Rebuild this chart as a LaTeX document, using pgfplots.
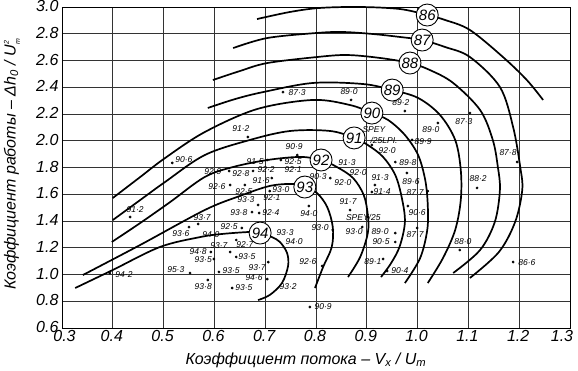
\documentclass[border=0pt]{standalone}
\usepackage{fontspec}
\setmainfont{Liberation Sans}
\usepackage{pgfplots}
\pgfplotsset{compat=1.18}
\usepackage{pgfplotstable}

\pgfplotstableread{
x y
0.735 2.364
0.869 2.305
0.666 2.028
0.763 1.893
0.704 1.856
0.731 1.856
0.629 1.774
0.676 1.774
0.713 1.721
0.631 1.669
0.660 1.669
0.709 1.624
0.686 1.520
0.674 1.467
0.688 1.460
0.568 1.378
0.550 1.355
0.654 1.348
0.643 1.258
0.631 1.168
0.593 1.168
0.599 1.116
0.643 1.131
0.552 1.011
0.609 1.019
0.706 1.093
0.704 0.966
0.587 0.959
0.635 0.899
0.394 1.011
0.434 1.430
0.517 1.834
0.788 0.757
0.786 1.512
0.867 1.482
0.891 1.355
0.833 1.333
0.956 1.310
0.956 1.243
0.999 1.348
0.981 1.512
0.812 1.064
0.932 1.116
0.940 1.026
0.975 2.222
1.103 2.207
1.040 2.133
0.989 2.006
0.910 1.968
0.956 1.841
0.916 1.669
0.979 1.759
0.910 1.617
1.020 1.624
1.117 1.647
1.196 1.841
1.083 1.183
1.188 1.093
0.828 1.721
}\dotstab

\pgfplotstableread{
x y t
0.763 2.357 87·3
0.865 2.364 89·0
0.652 2.088 91·2
0.757 1.953 90·9
0.680 1.841 91·5
0.755 1.841 92·5
0.702 1.781 92·2
0.755 1.781 92·1
0.597 1.766 92·9
0.652 1.751 92·8
0.692 1.699 91·6
0.605 1.654 92·6
0.658 1.617 92·5
0.731 1.632 93·0
0.713 1.572 92·1
0.662 1.557 93·3
0.648 1.460 93·8
0.711 1.460 92·4
0.576 1.422 93·7
0.534 1.303 93·6
0.629 1.355 92·5
0.593 1.295 94·0
0.739 1.310 93·3
0.757 1.243 94·0
0.609 1.213 93·7
0.660 1.221 92·7
0.568 1.168 94·8
0.578 1.108 93·5
0.664 1.131 93·5
0.524 1.034 95·3
0.633 1.026 93·5
0.684 1.049 93·7
0.678 0.974 94·6
0.578 0.907 93·8
0.658 0.899 93·5
0.745 0.907 93·2
0.422 0.996 94·2
0.444 1.482 91·2
0.540 1.856 90·6
0.814 0.757 90·9
0.786 1.452 94·0
0.863 1.542 91·7
0.893 1.430 SPEY/25
0.808 1.348 93·0
0.875 1.318 93·0
0.926 1.318 89·0
0.928 1.243 90·5
0.995 1.295 87·7
0.999 1.460 90·6
0.784 1.093 92·6
0.912 1.093 89·1
0.965 1.026 90·4
0.967 2.282 89·2
1.091 2.140 87·3
1.026 2.080 89·0
1.011 1.991 89·9
0.914 2.085 SPEY
0.934 2.005 /25LPI.
0.940 1.930 92·0
0.981 1.834 89·8
0.853 1.684 92·0
0.883 1.759 92·0
0.861 1.834 91·3
0.926 1.721 91·3
0.930 1.617 91·4
0.987 1.692 89·6
0.995 1.609 87·7
1.119 1.714 88·2
1.178 1.908 87·8
1.089 1.243 88·0
1.215 1.086 86·6
0.804 1.729 90·3
}\labtab

\pgfplotstableread{
x y t
1.019 2.940 86
1.009 2.753 87
0.985 2.581 88
0.950 2.379 89
0.910 2.207 90
0.875 2.021 91
0.810 1.856 92
0.778 1.654 93
0.690 1.310 94
}\circtab

\begin{document}
\begin{tikzpicture}
\path[use as bounding box] (-62pt,-42pt) rectangle (516pt,328pt);
\begin{axis}[
  at={(0,0)}, anchor=south west,
  scale only axis, width=508pt, height=321pt,
  xmin=0.3, xmax=1.3, ymin=0.6, ymax=3.0,
  xtick={0.3,0.4,0.5,0.6,0.7,0.8,0.9,1.0,1.1,1.2,1.3},
  xticklabels={{0.3\hspace*{-7pt}},0.4,0.5,0.6,0.7,0.8,0.9,1.0,1.1,1.2,{\hspace*{-14pt}1.3}},
  ytick={0.6,0.8,1.0,1.2,1.4,1.6,1.8,2.0,2.2,2.4,2.6,2.8,3.0},
  /pgf/number format/.cd, fixed, fixed zerofill, precision=1, assume math mode=true,
  /pgfplots/.cd,
  grid=major,
  major grid style={black!80, line width=0.7pt},
  axis line style={black, line width=0.9pt},
  tick style={draw=none},
  tick label style={font=\fontsize{16}{16}\selectfont\itshape},
  xticklabel style={xshift=-1pt, yshift=1pt},
  yticklabel style={yshift=1pt},
  xlabel={Коэффициент потока – V\textsubscript{x} / U\textsubscript{m}},
  ylabel={Коэффициент работы – Δh\textsubscript{0} / $\mbox{\itshape U}_{\mbox{\scriptsize\itshape m}}^{\mbox{\scriptsize\itshape 2}}$},
  label style={font=\fontsize{16}{16}\selectfont\itshape},
  xlabel style={at={(axis description cs:0.48,0)}, anchor=north, yshift=-21pt},
  ylabel style={at={(axis description cs:-0.076,0.51)}, anchor=south},
  clip=false,
  every axis plot/.append style={line join=round},
]
% contours
\pgfplotsset{cont/.style={black, line width=1.7pt, smooth, tension=0.55, no marks}}
\addplot[cont] coordinates {(0.684,2.910) (0.749,2.963) (0.808,2.993) (0.887,3.0) (0.965,2.985) (1.019,2.940) (1.054,2.903) (1.103,2.828) (1.168,2.626) (1.215,2.454) (1.247,2.305)};
\addplot[cont] coordinates {(0.637,2.693) (0.704,2.768) (0.802,2.806) (0.853,2.813) (0.912,2.798) (0.965,2.776) (1.009,2.753) (1.054,2.701) (1.103,2.626) (1.162,2.402) (1.188,2.103) (1.202,1.804) (1.206,1.632) (1.192,1.393) (1.160,1.168) (1.103,0.974)};
\addplot[cont] coordinates {(0.597,2.454) (0.650,2.521) (0.704,2.581) (0.802,2.626) (0.861,2.641) (0.926,2.619) (0.985,2.581) (1.024,2.529) (1.070,2.432) (1.123,2.230) (1.148,2.006) (1.158,1.804) (1.162,1.632) (1.152,1.393) (1.123,1.183) (1.070,1.011)};
\addplot[cont] coordinates {(0.587,2.245) (0.641,2.312) (0.696,2.364) (0.794,2.432) (0.893,2.424) (0.950,2.379) (1.001,2.320) (1.044,2.193) (1.074,2.006) (1.085,1.781) (1.085,1.557) (1.074,1.333) (1.050,1.123) (1.020,0.936)};
\addplot[cont] coordinates {(0.400,1.572) (0.454,1.729) (0.503,1.871) (0.581,2.065) (0.684,2.237) (0.794,2.305) (0.867,2.267) (0.910,2.207) (0.942,2.155) (0.975,2.043) (1.001,1.893) (1.015,1.707) (1.020,1.520) (1.019,1.333) (1.005,1.123) (0.975,0.936)};
\addplot[cont] coordinates {(0.400,1.407) (0.454,1.557) (0.503,1.692) (0.581,1.893) (0.670,2.006) (0.749,2.073) (0.828,2.073) (0.875,2.021) (0.902,1.968) (0.932,1.879) (0.956,1.744) (0.969,1.572) (0.975,1.393) (0.965,1.213) (0.948,1.086) (0.928,0.981)};
\addplot[cont] coordinates {(0.398,1.243) (0.454,1.385) (0.513,1.542) (0.581,1.729) (0.637,1.804) (0.704,1.856) (0.769,1.879) (0.810,1.856) (0.841,1.804) (0.873,1.721) (0.894,1.594) (0.902,1.445) (0.902,1.310) (0.887,1.131) (0.863,0.981)};
\addplot[cont] coordinates {(0.341,0.996) (0.454,1.221) (0.581,1.482) (0.650,1.587) (0.709,1.662) (0.755,1.677) (0.778,1.654) (0.802,1.609) (0.822,1.505) (0.833,1.355) (0.831,1.206) (0.814,1.056) (0.798,0.899)};
\addplot[cont] coordinates {(0.326,0.899) (0.400,1.034) (0.493,1.206) (0.572,1.280) (0.615,1.303) (0.670,1.318) (0.690,1.310) (0.713,1.280) (0.729,1.243) (0.743,1.161) (0.745,1.064) (0.733,0.936) (0.709,0.847) (0.686,0.809)};
% data points
\addplot[only marks, mark=*, mark size=1.2pt, black] table {\dotstab};
\addplot[only marks, mark=none, nodes near coords, point meta=explicit symbolic,
  every node near coord/.append style={anchor=center, inner sep=0pt, font=\fontsize{8.5}{9}\selectfont\itshape}]
  table[meta=t] {\labtab};
% contour labels
\addplot[only marks, mark=none, nodes near coords, point meta=explicit symbolic,
  every node near coord/.append style={anchor=center, circle, draw=black, line width=0.9pt, fill=white, minimum size=22pt, inner sep=0pt, font=\fontsize{15}{15}\selectfont\itshape}]
  table[meta=t] {\circtab};
\end{axis}
\end{tikzpicture}
\end{document}
